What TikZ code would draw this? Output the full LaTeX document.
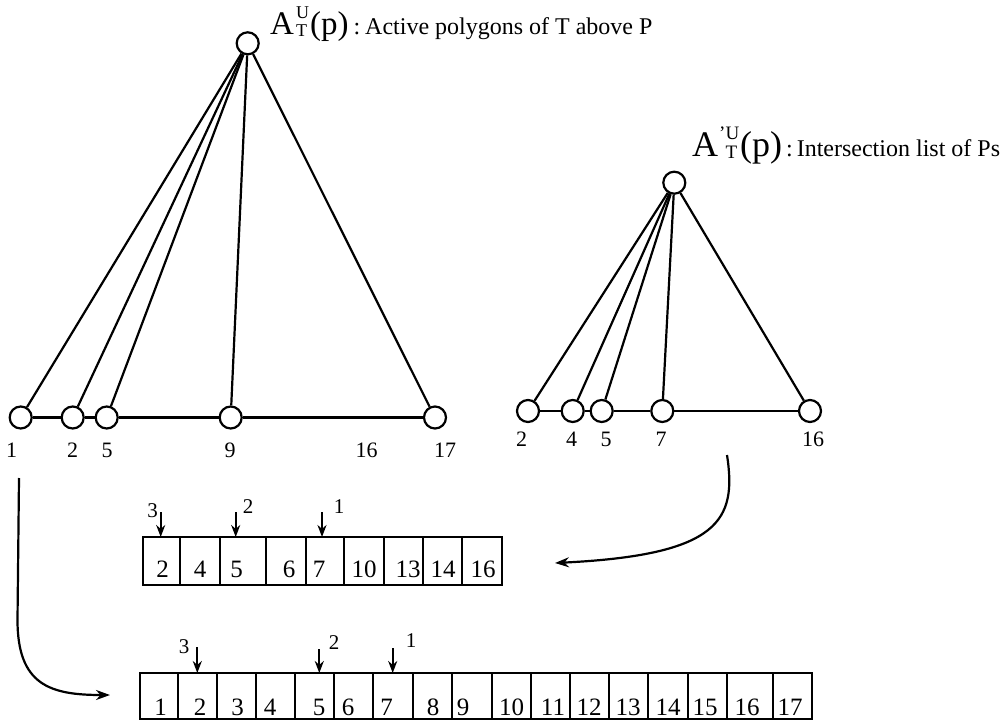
\documentclass[tikz,border=0pt]{standalone}
\usepackage{fontspec}
\setmainfont{Liberation Serif}
\usetikzlibrary{arrows.meta}
\begin{document}
\begin{tikzpicture}[x=1pt,y=-1pt,
  vtx/.style={circle,draw,line width=2.2pt,minimum size=22pt,inner sep=0pt,fill=white},
  tline/.style={line width=2.2pt},
  lbl/.style={anchor=base,inner sep=0pt,font=\fontsize{22}{22}\selectfont},
  plbl/.style={anchor=base,inner sep=0pt,font=\fontsize{21}{21}\selectfont},
  num/.style={anchor=base,inner sep=0pt,font=\fontsize{25}{25}\selectfont},
  ptr/.style={line width=2.2pt,-{Stealth[length=12pt,width=9pt]}},
  flow/.style={line width=2.2pt,-{Stealth[length=14pt,width=10pt]}},
  cellbox/.style={line width=2.2pt}]
\useasboundingbox (0,0) rectangle (1008,722);

% ---------- left tree ----------
\node[vtx] (r1) at (247.7,43.3) {};
\node[vtx] (a1) at (20.7,417.5) {};
\node[vtx] (a2) at (72.7,417.5) {};
\node[vtx] (a5) at (106.7,417.5) {};
\node[vtx] (a9) at (230.7,417.5) {};
\node[vtx] (a17) at (435,417.5) {};
\foreach \n in {a1,a2,a5,a9,a17} \draw[tline] (r1) -- (\n);
\draw[tline] (a1) -- (a2);
\draw[tline] (a2) -- (a5);
\draw[tline] (a5) -- (a9);
\draw[tline] (a9) -- (a17);
\node[lbl] (la1) at (11.7,457) {1};
\node[lbl] (la2) at (72.7,457) {2};
\node[lbl] (la5) at (107,457) {5};
\node[lbl] (la9) at (230,457) {9};
\node[lbl] (la16) at (366.7,457) {16};
\node[lbl] (la17) at (445,457) {17};

\node[anchor=base west,inner sep=0pt] (t1) at (270,35) {{\fontsize{33}{33}\selectfont A}\kern2pt\rlap{\raisebox{16.5pt}{\fontsize{18}{18}\selectfont U}}\raisebox{-2pt}{\fontsize{18}{18}\selectfont T}\kern3pt{\fontsize{33}{33}\selectfont (p)}{\fontsize{24}{24}\selectfont\kern5pt:\kern5pt Active polygons of T above P}};

% ---------- right tree ----------
\node[vtx] (r2) at (674.3,182.7) {};
\node[vtx] (b2) at (528,411) {};
\node[vtx] (b4) at (572.7,411) {};
\node[vtx] (b5) at (601.7,411) {};
\node[vtx] (b7) at (662.3,411) {};
\node[vtx] (b16) at (810,411) {};
\foreach \n in {b2,b4,b5,b7,b16} \draw[tline] (r2) -- (\n);
\draw[tline] (b2) -- (b4);
\draw[tline] (b4) -- (b5);
\draw[tline] (b5) -- (b7);
\draw[tline] (b7) -- (b16);
\node[lbl] (lb2) at (521.7,446) {2};
\node[lbl] (lb4) at (571.7,446) {4};
\node[lbl] (lb5) at (606,446) {5};
\node[lbl] (lb7) at (661,446) {7};
\node[lbl] (lb16) at (813,446) {16};

\node[anchor=base west,inner sep=0pt] (t2) at (692,157) {{\fontsize{36}{36}\selectfont A}\kern1pt\rlap{\raisebox{17.5pt}{\fontsize{19}{19}\selectfont 'U}}\raisebox{-2pt}{\fontsize{19}{19}\selectfont\phantom{'}T}\kern3pt{\fontsize{36}{36}\selectfont (p)}{\fontsize{24}{24}\selectfont\kern4pt:\kern4pt Intersection list of Ps}};

% ---------- array 1 ----------
\draw[cellbox] (143,537) rectangle (502,585);
\foreach \x in {180,220,266,306,344,384,423,462} \draw[cellbox] (\x,537) -- (\x,585);
\foreach \x/\v [count=\i] in {162.7/2,200/4,236.7/5,289/6,319/7,364/10,408/13,443/14,483/16}
  \node[num] (p\i) at (\x,577) {\v};

\coordinate (s1a) at (160.7,512); \coordinate (e1a) at (160.7,537);
\coordinate (s1b) at (235.7,512); \coordinate (e1b) at (235.7,537);
\coordinate (s1c) at (322,512);   \coordinate (e1c) at (322,537);
\draw[ptr] (s1a) -- (e1a);
\draw[ptr] (s1b) -- (e1b);
\draw[ptr] (s1c) -- (e1c);
\node[plbl] (q1a) at (152.7,517) {3};
\node[plbl] (q1b) at (248,513) {2};
\node[plbl] (q1c) at (339,513) {1};

% ---------- array 2 ----------
\draw[cellbox] (140,673) rectangle (812,719);
\foreach \x in {178,217,256,295,334,373,413,452,492,531,570,609,648,688,727,773} \draw[cellbox] (\x,673) -- (\x,719);
\foreach \x/\v [count=\i] in {160.7/1,200/2,237.7/3,270/4,319/5,348/6,386.7/7,433/8,463/9,511.7/10,553/11,589/12,628/13,668/14,705/15,747/16,790/17}
  \node[num] (w\i) at (\x,715) {\v};

\coordinate (s2a) at (197.3,647); \coordinate (e2a) at (197.3,673);
\coordinate (s2b) at (319.3,649); \coordinate (e2b) at (319.3,673);
\coordinate (s2c) at (392.7,648); \coordinate (e2c) at (392.7,673);
\draw[ptr] (s2a) -- (e2a);
\draw[ptr] (s2b) -- (e2b);
\draw[ptr] (s2c) -- (e2c);
\node[plbl] (q2a) at (184,653) {3};
\node[plbl] (q2b) at (334,649) {2};
\node[plbl] (q2c) at (411,647) {1};

% ---------- curved arrows ----------
\coordinate (c1s) at (19,478);
\coordinate (c1e) at (110,695);
\draw[flow] (c1s) -- (17.5,620) .. controls (17.5,685) and (50,695) .. (c1e);
\coordinate (c2s) at (727,455);
\coordinate (c2e) at (555,563);
\draw[flow] (c2s) .. controls (737,520) and (720,555) .. (c2e);
\end{tikzpicture}
\end{document}
